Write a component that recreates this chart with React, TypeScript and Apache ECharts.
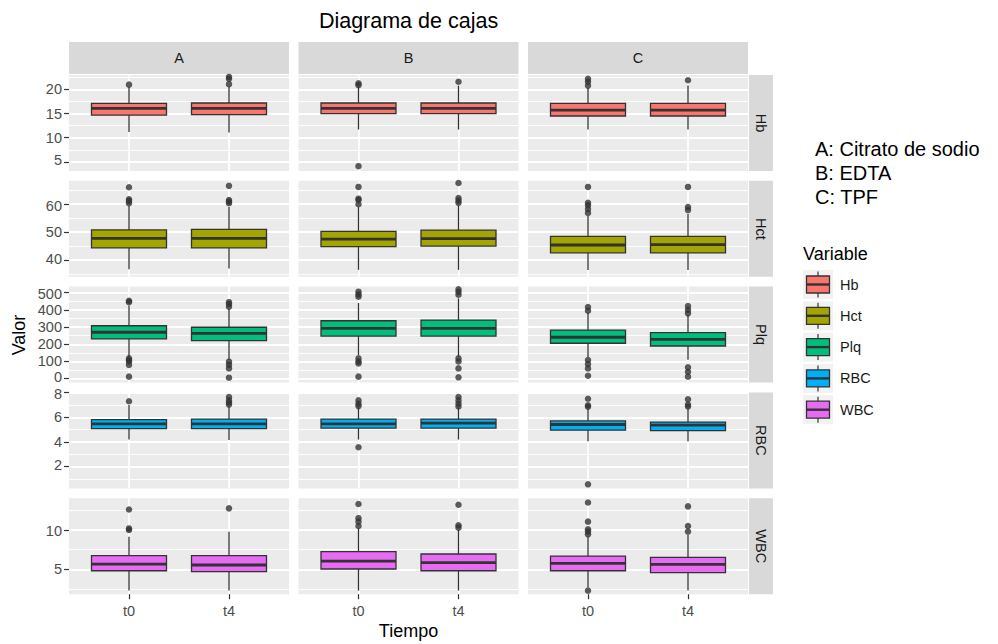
import React, { useEffect, useRef } from 'react';
import * as echarts from 'echarts';

const variables = ['Hb', 'Hct', 'Plq', 'RBC', 'WBC'];
const groups = ['A', 'B', 'C'];
const times = ['t0', 't4'];
const fillColors = ['#F8766D', '#A3A500', '#00BF7D', '#00B0F6', '#E76BF3'];
const notes = ['A: Citrato de sodio', 'B: EDTA', 'C: TPF'];
const chartTitle = 'Diagrama de cajas';
const xTitle = 'Tiempo';
const yTitle = 'Valor';
const legendTitle = 'Variable';

// [lower whisker, Q1, median, Q3, upper whisker] in order A-t0, A-t4, B-t0, B-t4, C-t0, C-t4
const hbBoxes = [
  [11.2, 14.7, 16.1, 17.1, 20.5],
  [11.1, 14.8, 16.1, 17.2, 20.6],
  [11.7, 15.0, 16.1, 17.2, 20.6],
  [11.7, 15.0, 16.1, 17.2, 20.8],
  [11.7, 14.5, 15.7, 17.1, 20.3],
  [11.7, 14.5, 15.7, 17.1, 20.8],
];
const hbOutliers = [
  [21.0],
  [21.1, 22.2, 22.6],
  [20.9, 21.3, 4.1],
  [21.6],
  [20.8, 21.6, 22.2],
  [21.9],
];

const hctBoxes = [
  [36.7, 44.4, 47.8, 50.8, 59.5],
  [37.0, 44.4, 47.8, 51.0, 59.0],
  [36.5, 44.8, 47.5, 50.3, 59.0],
  [36.5, 45.0, 47.7, 50.7, 59.5],
  [36.4, 42.6, 45.4, 48.5, 55.8],
  [36.4, 42.6, 45.5, 48.5, 56.5],
];
const hctOutliers = [
  [60.4, 61.2, 61.8, 66.1],
  [60.4, 61.0, 61.5, 66.6],
  [60.0, 61.5, 62.0, 66.2],
  [60.5, 61.3, 62.2, 67.6],
  [56.9, 58.3, 59.6, 60.5, 66.2],
  [57.9, 59.0, 66.2],
];

const plqBoxes = [
  [128, 231, 270, 308, 425],
  [110, 221, 264, 299, 405],
  [138, 248, 293, 337, 440],
  [128, 248, 293, 341, 467],
  [125, 206, 241, 283, 385],
  [110, 190, 229, 268, 370],
];
const plqOutliers = [
  [445, 453, 118, 109, 100, 80, 12],
  [418, 434, 445, 99, 80, 60, 6],
  [477, 490, 506, 118, 100, 89, 12],
  [488, 505, 520, 118, 100, 60, 8],
  [395, 417, 109, 85, 60, 17],
  [380, 400, 422, 66, 40, 12],
];

const rbcBoxes = [
  [4.19, 5.07, 5.47, 5.8, 7.0],
  [4.15, 5.07, 5.47, 5.85, 6.85],
  [4.19, 5.12, 5.47, 5.85, 6.8],
  [4.19, 5.12, 5.52, 5.85, 6.8],
  [4.05, 4.95, 5.41, 5.7, 6.7],
  [4.05, 4.92, 5.36, 5.61, 6.75],
];
const rbcOutliers = [
  [7.3],
  [7.03, 7.2, 7.37, 7.65],
  [6.91, 7.1, 7.37, 3.56],
  [6.87, 7.1, 7.37, 7.65],
  [6.85, 6.98, 7.5, 0.55],
  [6.87, 7.03, 7.46],
];

const wbcBoxes = [
  [2.3, 4.82, 5.67, 6.73, 9.15],
  [2.3, 4.7, 5.55, 6.73, 9.78],
  [2.3, 5.04, 6.05, 7.24, 10.2],
  [2.3, 4.82, 5.84, 6.95, 10.0],
  [2.7, 4.82, 5.76, 6.69, 9.2],
  [2.3, 4.58, 5.63, 6.52, 9.4],
];
const wbcOutliers = [
  [10.0, 10.2, 12.6],
  [12.75],
  [10.5, 11.06, 11.5, 13.3],
  [10.3, 10.6, 13.2],
  [9.45, 9.8, 10.1, 11.06, 13.5, 2.3],
  [9.8, 10.5, 13.0],
];

const yMins = [3.1, 34.0, -22.7, 0.22, 1.84];
const yMaxs = [23.0, 68.4, 535.5, 8.02, 14.04];
const majorTicks = [
  [5, 10, 15, 20],
  [40, 50, 60],
  [0, 100, 200, 300, 400, 500],
  [2, 4, 6, 8],
  [5, 10],
];
const minorTicks = [
  [7.5, 12.5, 17.5, 22.5],
  [35, 45, 55, 65],
  [50, 150, 250, 350, 450],
  [1, 3, 5, 7],
  [2.5, 7.5, 12.5],
];

const boxesByVar = [hbBoxes, hctBoxes, plqBoxes, rbcBoxes, wbcBoxes];
const outliersByVar = [hbOutliers, hctOutliers, plqOutliers, rbcOutliers, wbcOutliers];

// layout / style
const FONT = "'Liberation Sans', Arial, sans-serif";
const COL_LEFT = [69, 298.5, 528];
const ROW_TOP = [75, 180.8, 286.6, 392.4, 498.2];
const PANEL_W = 220;
const PANEL_H = 96;
const PANEL_BG = '#EBEBEB';
const STRIP_BG = '#D9D9D9';
const EDGE = '#333333';
const BOX_HALF = 0.375;
const AXIS_TEXT = '#4D4D4D';
const TICK_FS = 14.5;

const richBase = { fontSize: TICK_FS, fontFamily: FONT, color: AXIS_TEXT, lineHeight: 14 };

function yLabelFormatter(rowIndex: number) {
  const nTicks = majorTicks[rowIndex];
  return (val: number) => {
    const s = String(val);
    // first label of a row nudged up, last label nudged down so neighbouring panels' labels do not collide
    if (rowIndex > 0 && val === nTicks[nTicks.length - 1]) return '{dn|' + s + '}';
    if (rowIndex < majorTicks.length - 1 && val === nTicks[0]) return '{up|' + s + '}';
    return '{n|' + s + '}';
  };
}

function renderBox(color: string) {
  return (params: any, api: any) => {
    const x = api.value(0);
    const lo = api.coord([x, api.value(1)]);
    const q1 = api.coord([x, api.value(2)]);
    const md = api.coord([x, api.value(3)]);
    const q3 = api.coord([x, api.value(4)]);
    const hi = api.coord([x, api.value(5)]);
    const left = api.coord([x - BOX_HALF, api.value(3)])[0];
    const right = api.coord([x + BOX_HALF, api.value(3)])[0];
    return {
      type: 'group',
      children: [
        { type: 'line', shape: { x1: lo[0], y1: lo[1], x2: q1[0], y2: q1[1] }, style: { stroke: EDGE, lineWidth: 1.3 } },
        { type: 'line', shape: { x1: q3[0], y1: q3[1], x2: hi[0], y2: hi[1] }, style: { stroke: EDGE, lineWidth: 1.3 } },
        {
          type: 'rect',
          shape: { x: left, y: q3[1], width: right - left, height: q1[1] - q3[1] },
          style: { fill: color, stroke: EDGE, lineWidth: 1.3 },
        },
        { type: 'line', shape: { x1: left, y1: md[1], x2: right, y2: md[1] }, style: { stroke: EDGE, lineWidth: 2.8 } },
      ],
    };
  };
}

function buildOption() {
  const grid: any[] = [];
  const xAxis: any[] = [];
  const yAxis: any[] = [];
  const series: any[] = [];
  const graphic: any[] = [];

  variables.forEach((v, r) => {
    groups.forEach((g, c) => {
      const gi = r * groups.length + c;
      const isBottom = r === variables.length - 1;
      const isLeft = c === 0;
      grid.push({
        left: COL_LEFT[c],
        top: ROW_TOP[r],
        width: PANEL_W,
        height: PANEL_H,
        show: true,
        backgroundColor: PANEL_BG,
        borderWidth: 0,
      });
      xAxis.push({
        type: 'value',
        gridIndex: gi,
        min: 0.4,
        max: 2.6,
        axisLine: { show: false },
        axisTick: { show: isBottom, customValues: [1, 2], length: 5, lineStyle: { color: EDGE, width: 1.2 } },
        axisLabel: {
          show: isBottom,
          customValues: [1, 2],
          formatter: (val: number) => times[Math.round(val) - 1] || '',
          margin: 9,
          color: AXIS_TEXT,
          fontSize: TICK_FS,
          fontFamily: FONT,
        },
        splitLine: { show: true, lineStyle: { color: '#FFFFFF', width: 1.8 } },
      });
      yAxis.push({
        type: 'value',
        gridIndex: gi,
        min: yMins[r],
        max: yMaxs[r],
        axisLine: { show: false },
        axisTick: { show: isLeft, customValues: majorTicks[r], length: 5, lineStyle: { color: EDGE, width: 1.2 } },
        axisLabel: {
          show: isLeft,
          customValues: majorTicks[r],
          margin: 7,
          color: AXIS_TEXT,
          fontSize: TICK_FS,
          fontFamily: FONT,
          formatter: yLabelFormatter(r),
          rich: {
            n: { ...richBase },
            up: { ...richBase, padding: [0, 0, 3, 0] },
            dn: { ...richBase, padding: [3, 0, 0, 0] },
          },
        },
        splitLine: { show: true, lineStyle: { color: '#FFFFFF', width: 1.8 } },
      });
      yAxis.push({
        type: 'value',
        gridIndex: gi,
        min: yMins[r],
        max: yMaxs[r],
        position: 'left',
        axisLine: { show: false },
        axisTick: { show: false, customValues: minorTicks[r] },
        axisLabel: { show: false, customValues: minorTicks[r] },
        splitLine: { show: true, lineStyle: { color: '#FFFFFF', width: 0.9 } },
      });

      const boxData = times.map((t, k) => [k + 1, ...boxesByVar[r][c * 2 + k]]);
      const outData: number[][] = [];
      times.forEach((t, k) => {
        outliersByVar[r][c * 2 + k].forEach((y) => outData.push([k + 1, y]));
      });

      series.push({
        type: 'scatter',
        xAxisIndex: gi,
        yAxisIndex: 2 * gi,
        data: outData,
        symbol: 'circle',
        symbolSize: 6.5,
        itemStyle: { color: EDGE },
        silent: true,
        z: 2,
      });
      series.push({
        type: 'custom',
        xAxisIndex: gi,
        yAxisIndex: 2 * gi,
        data: boxData,
        encode: { x: 0, y: [1, 2, 3, 4, 5] },
        renderItem: renderBox(fillColors[r]),
        clip: false,
        silent: true,
        z: 3,
      });
    });
  });

  // strips
  groups.forEach((g, c) => {
    graphic.push({
      type: 'rect',
      shape: { x: COL_LEFT[c], y: 42, width: PANEL_W, height: 32 },
      style: { fill: STRIP_BG },
    });
    graphic.push({
      type: 'text',
      x: COL_LEFT[c] + PANEL_W / 2,
      y: 58,
      style: { text: g, fill: '#1A1A1A', fontSize: TICK_FS, fontFamily: FONT, textAlign: 'center', textVerticalAlign: 'middle' },
    });
  });
  variables.forEach((v, r) => {
    graphic.push({
      type: 'rect',
      shape: { x: 749, y: ROW_TOP[r], width: 24, height: PANEL_H },
      style: { fill: STRIP_BG },
    });
    graphic.push({
      type: 'text',
      x: 761,
      y: ROW_TOP[r] + PANEL_H / 2,
      rotation: -Math.PI / 2,
      style: { text: v, fill: '#1A1A1A', fontSize: TICK_FS, fontFamily: FONT, textAlign: 'center', textVerticalAlign: 'middle' },
    });
  });

  // titles
  graphic.push({
    type: 'text',
    x: 408.5,
    y: 21,
    style: { text: chartTitle, fill: '#000', fontSize: 21.5, fontFamily: FONT, textAlign: 'center', textVerticalAlign: 'middle' },
  });
  graphic.push({
    type: 'text',
    x: 408.5,
    y: 631,
    style: { text: xTitle, fill: '#000', fontSize: 18, fontFamily: FONT, textAlign: 'center', textVerticalAlign: 'middle' },
  });
  graphic.push({
    type: 'text',
    x: 19,
    y: 335,
    rotation: Math.PI / 2,
    style: { text: yTitle, fill: '#000', fontSize: 18, fontFamily: FONT, textAlign: 'center', textVerticalAlign: 'middle' },
  });

  // notes
  notes.forEach((n, i) => {
    graphic.push({
      type: 'text',
      x: 815,
      y: 148.5 + 24 * i,
      style: { text: n, fill: '#000', fontSize: 20, fontFamily: FONT, textAlign: 'left', textVerticalAlign: 'middle' },
    });
  });

  // legend
  graphic.push({
    type: 'text',
    x: 803,
    y: 254,
    style: { text: legendTitle, fill: '#000', fontSize: 18, fontFamily: FONT, textAlign: 'left', textVerticalAlign: 'middle' },
  });
  variables.forEach((v, i) => {
    const cy = 284.5 + 31.3 * i;
    graphic.push({ type: 'rect', shape: { x: 803, y: cy - 14.5, width: 30, height: 29 }, style: { fill: '#F2F2F2' } });
    graphic.push({ type: 'line', shape: { x1: 818, y1: cy - 13, x2: 818, y2: cy + 13 }, style: { stroke: EDGE, lineWidth: 1.2 } });
    graphic.push({
      type: 'rect',
      shape: { x: 806.5, y: cy - 8.5, width: 23, height: 17 },
      style: { fill: fillColors[i], stroke: EDGE, lineWidth: 1.3 },
    });
    graphic.push({ type: 'line', shape: { x1: 806.5, y1: cy, x2: 829.5, y2: cy }, style: { stroke: EDGE, lineWidth: 2.4 } });
    graphic.push({
      type: 'text',
      x: 840,
      y: cy,
      style: { text: v, fill: '#1A1A1A', fontSize: TICK_FS, fontFamily: FONT, textAlign: 'left', textVerticalAlign: 'middle' },
    });
  });

  return {
    animation: false,
    backgroundColor: '#FFFFFF',
    textStyle: { fontFamily: FONT },
    grid,
    xAxis,
    yAxis,
    series,
    graphic,
  };
}

export default function App() {
  const ref = useRef<HTMLDivElement>(null);
  useEffect(() => {
    if (!ref.current) return;
    const chart = echarts.init(ref.current, undefined, { renderer: 'svg' });
    chart.setOption(buildOption() as any);
    return () => chart.dispose();
  }, []);
  return (
    <div
      ref={ref}
      style={{ position: 'fixed', left: 0, top: 0, width: 998, height: 644, background: '#fff' }}
    />
  );
}
